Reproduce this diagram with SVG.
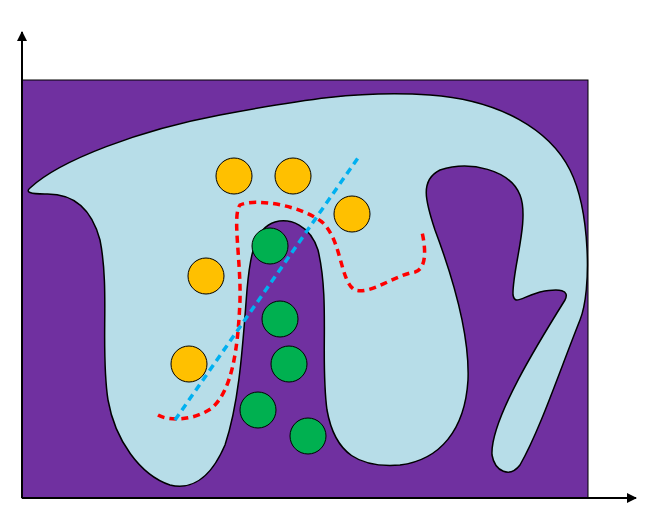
<svg xmlns="http://www.w3.org/2000/svg" width="654" height="512" viewBox="0 0 654 512">
<defs><marker id="ar" markerWidth="10" markerHeight="10" refX="9" refY="5" orient="auto" markerUnits="userSpaceOnUse" viewBox="0 0 10 10"><path d="M0,0 L10,5 L0,10 z" fill="#000"/></marker>
<style>.y{fill:#FFC000;stroke:#000;stroke-width:1}.g{fill:#00B050;stroke:#000;stroke-width:1}</style></defs>
<rect x="22" y="80" width="566" height="418" fill="#7030A0" stroke="#000" stroke-width="1"/>
<path d="M30,188 C60,160 140,130 220,115 C300,100 360,90 430,95 C500,100 550,130 570,170 C590,210 592,290 580,320 C560,370 540,430 520,465 C510,478 495,472 492,455 C490,420 540,340 565,300 C570,290 560,288 540,292 C520,298 515,305 513,295 C512,270 530,220 520,195 C510,170 470,160 440,170 C420,180 425,200 435,230 C450,270 470,330 468,380 C465,430 440,460 400,465 C360,468 335,455 327,410 C320,360 330,300 318,250 C310,225 290,218 275,222 C255,228 250,255 247,290 C243,340 240,400 225,445 C210,480 190,490 170,485 C140,475 115,440 108,400 C100,350 110,290 100,240 C92,210 75,193 45,194 C30,194 25,192 30,188 Z" fill="#B7DDE8" stroke="#000" stroke-width="1.5"/>
<g id="yellow">
<circle class="y" cx="234" cy="176" r="18"/><circle class="y" cx="293" cy="176" r="18"/><circle class="y" cx="352" cy="214" r="18"/><circle class="y" cx="206" cy="276" r="18"/><circle class="y" cx="189" cy="364" r="18"/></g>
<g id="green">
<circle class="g" cx="270" cy="246" r="18"/><circle class="g" cx="280" cy="319" r="18"/><circle class="g" cx="289" cy="364" r="18"/><circle class="g" cx="258" cy="410" r="18"/><circle class="g" cx="308" cy="436" r="18"/></g>
<path d="M158,415 C170,422 195,420 212,408 C232,390 238,350 240,300 C241,260 232,215 240,205 C255,198 300,205 322,222 C342,240 340,282 355,290 C370,295 395,275 415,272 C428,268 425,245 422,232" fill="none" stroke="#FF0000" stroke-width="3.5" stroke-dasharray="7,5"/>
<line x1="175" y1="420" x2="360" y2="155" stroke="#00B0F0" stroke-width="3.5" stroke-dasharray="7,5"/>
<line x1="22" y1="498" x2="22" y2="32" stroke="#000" stroke-width="2" marker-end="url(#ar)"/>
<line x1="22" y1="498" x2="636" y2="498" stroke="#000" stroke-width="2" marker-end="url(#ar)"/>
</svg>
